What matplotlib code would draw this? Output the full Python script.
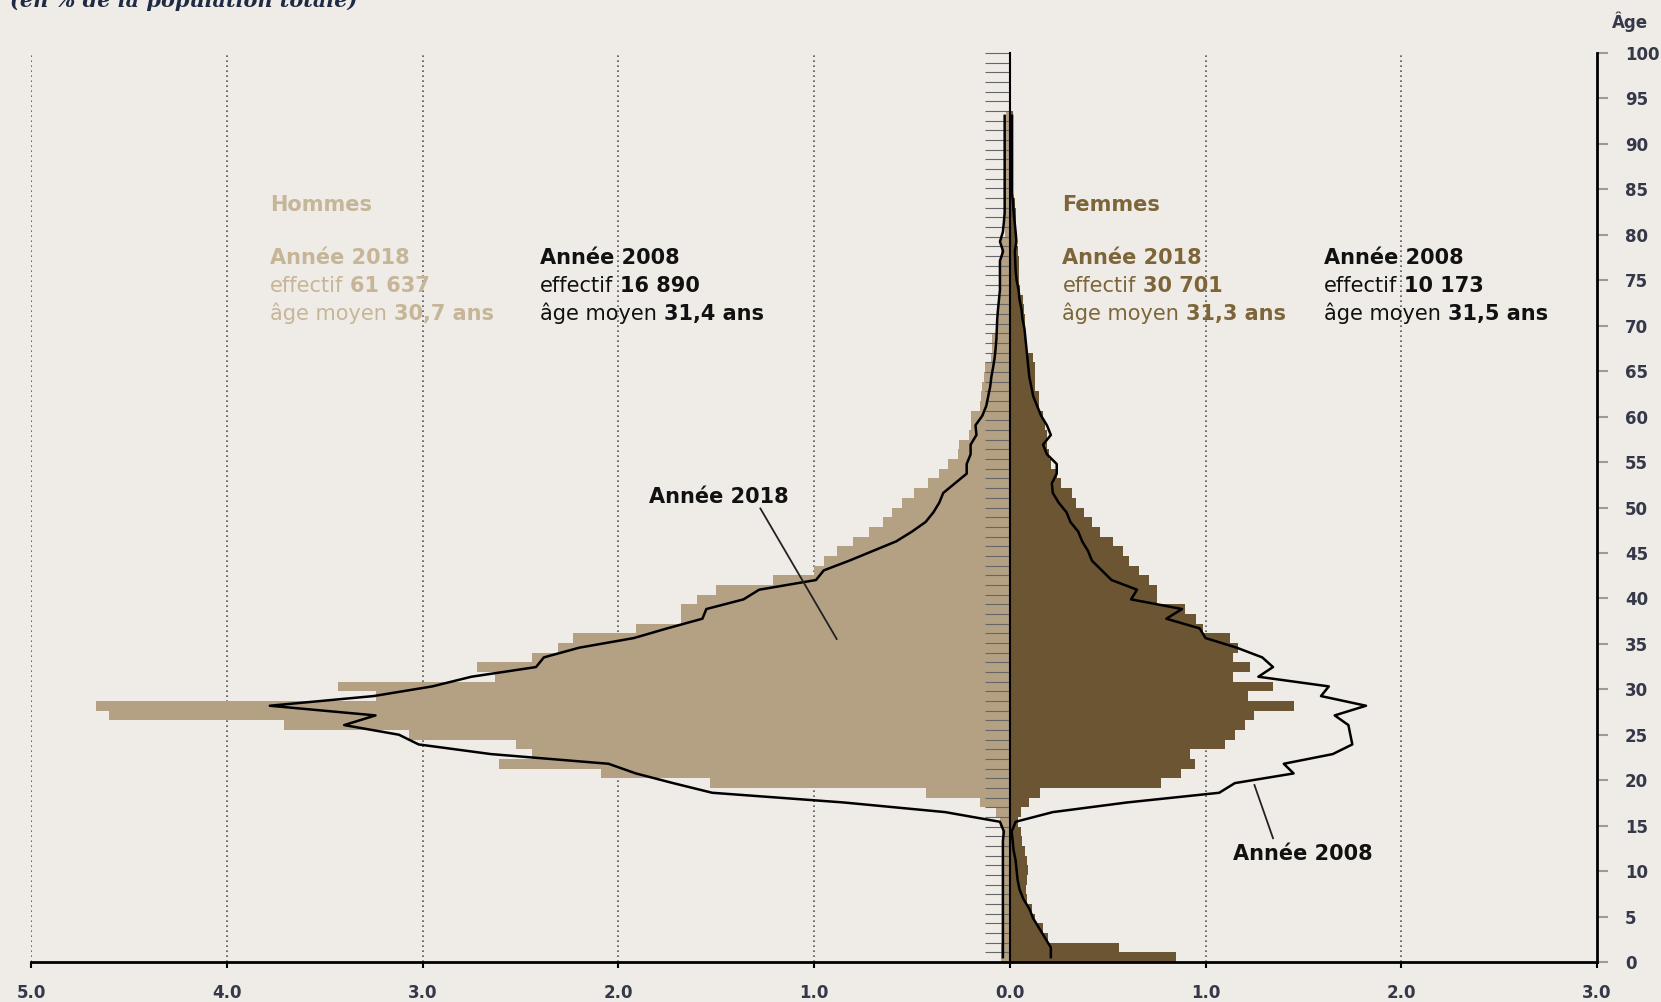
import numpy as np
import matplotlib.pyplot as plt

# age groups (one bar per year of age)
ages = np.arange(88)

# % of total population, 2018 (bars)
male_2018 = [0.045, 0.045, 0.04, 0.04, 0.04,
             0.035, 0.035, 0.035, 0.035, 0.035,
             0.035, 0.035, 0.04, 0.04, 0.05,
             0.07, 0.15, 0.43, 1.53, 2.09,
             2.61, 2.44, 2.52, 3.07, 3.71,
             4.60, 4.67, 3.24, 3.43, 2.63,
             2.72, 2.44, 2.31, 2.23, 1.91,
             1.68, 1.68, 1.60, 1.50, 1.21,
             1.00, 0.95, 0.88, 0.80, 0.72,
             0.65, 0.60, 0.55, 0.49, 0.42,
             0.36, 0.315, 0.265, 0.26, 0.21,
             0.20, 0.20, 0.15, 0.145, 0.14,
             0.13, 0.125, 0.095, 0.09, 0.09,
             0.06, 0.06, 0.06, 0.06, 0.045,
             0.045, 0.045, 0.045, 0.045, 0.045,
             0.025, 0.025, 0.025, 0.025, 0.025,
             0.025, 0.025, 0.025, 0.025, 0.025,
             0.025, 0.02, 0.02]
female_2018 = [0.847, 0.558, 0.196, 0.17, 0.128,
               0.116, 0.089, 0.082, 0.089, 0.094,
               0.089, 0.077, 0.065, 0.06, 0.043,
               0.06, 0.10, 0.153, 0.775, 0.877,
               0.945, 0.919, 1.098, 1.149, 1.20,
               1.246, 1.45, 1.217, 1.345, 1.14,
               1.226, 1.14, 1.166, 1.124, 0.987,
               0.953, 0.894, 0.75, 0.75, 0.71,
               0.66, 0.61, 0.58, 0.53, 0.46,
               0.42, 0.38, 0.34, 0.32, 0.26,
               0.24, 0.21, 0.20, 0.19, 0.19,
               0.18, 0.17, 0.15, 0.15, 0.13,
               0.13, 0.13, 0.12, 0.09, 0.085,
               0.08, 0.08, 0.075, 0.07, 0.05,
               0.045, 0.045, 0.045, 0.04, 0.035,
               0.03, 0.03, 0.03, 0.025, 0.015,
               0.015, 0.015, 0.015, 0.015, 0.015,
               0.015, 0.015, 0.015]

# % of total population, 2008 (black lines)
male_2008 = [0.035, 0.035, 0.035, 0.035, 0.035,
             0.035, 0.035, 0.035, 0.035, 0.035,
             0.035, 0.035, 0.035, 0.03, 0.05,
             0.33, 0.85, 1.52, 1.72, 1.91,
             2.05, 2.65, 3.02, 3.12, 3.40,
             3.24, 3.78, 3.25, 2.95, 2.75,
             2.42, 2.38, 2.20, 1.92, 1.75,
             1.57, 1.55, 1.36, 1.28, 0.99,
             0.95, 0.82, 0.70, 0.58, 0.50,
             0.43, 0.39, 0.36, 0.34, 0.28,
             0.22, 0.22, 0.20, 0.20, 0.17,
             0.175, 0.14, 0.12, 0.11, 0.10,
             0.094, 0.085, 0.077, 0.072, 0.068,
             0.066, 0.064, 0.06, 0.055, 0.05,
             0.05, 0.05, 0.05, 0.034, 0.05,
             0.035, 0.03, 0.026, 0.026, 0.026,
             0.026, 0.026, 0.026, 0.026, 0.026,
             0.026, 0.026, 0.026]
female_2008 = [0.21, 0.21, 0.18, 0.15, 0.12,
               0.10, 0.07, 0.05, 0.04, 0.035,
               0.03, 0.02, 0.015, 0.01, 0.03,
               0.22, 0.60, 1.07, 1.15, 1.45,
               1.40, 1.65, 1.75, 1.74, 1.73,
               1.66, 1.82, 1.59, 1.63, 1.27,
               1.345, 1.29, 1.16, 1.0, 0.97,
               0.80, 0.88, 0.62, 0.65, 0.52,
               0.47, 0.42, 0.40, 0.37, 0.35,
               0.31, 0.29, 0.25, 0.22, 0.215,
               0.24, 0.24, 0.19, 0.17, 0.21,
               0.19, 0.16, 0.14, 0.12, 0.11,
               0.10, 0.095, 0.09, 0.085, 0.08,
               0.075, 0.065, 0.06, 0.05, 0.045,
               0.035, 0.03, 0.028, 0.026, 0.034,
               0.03, 0.025, 0.02, 0.017, 0.012,
               0.012, 0.012, 0.012, 0.012, 0.012,
               0.012, 0.012, 0.012]

x_ticks = [-5, -4, -3, -2, -1, 0, 1, 2, 3]
grid_x = [-5, -4, -3, -2, -1, 1, 2]
age_ticks = list(range(0, 101, 5))

bg = '#efece7'
c_male = '#b4a083'
c_female = '#6b5532'
c_male_txt = '#c6b597'
c_female_txt = '#7d6539'
c_axis_txt = '#343848'

fig = plt.figure(figsize=(16.61, 10.02), dpi=100, facecolor=bg)
ax = fig.add_axes([31 / 1661, 40 / 1002, 1566 / 1661, 909 / 1002])
ax.set_facecolor(bg)

for g in grid_x:
    ax.axvline(g, color='#555555', lw=1.2, ls=(0, (1, 2)), zorder=0.5)

ax.barh(ages, -np.array(male_2018), height=1, align='edge', color=c_male, zorder=1)
ax.barh(ages, female_2018, height=1, align='edge', color=c_female, zorder=1)

ax.plot(-np.array(male_2008), ages + 0.5, color='black', lw=1.8, zorder=3)
ax.plot(female_2008, ages + 0.5, color='black', lw=1.8, zorder=3)

ax.set_xlim(-5, 3)
ax.set_ylim(0, 94)

# centre line with a tick for every year
ax.spines['left'].set_position(('data', 0))
ax.spines['left'].set_linewidth(1.5)
ax.spines['right'].set_visible(False)
ax.spines['top'].set_visible(False)
ax.spines['bottom'].set_linewidth(2)
ax.set_yticks(np.arange(0, 95))
ax.tick_params(axis='y', direction='out', length=18, width=0.8, color='#666666', labelleft=False)

ax.set_xticks(x_ticks)
ax.set_xticklabels([f"{abs(v):.1f}" for v in x_ticks])
ax.tick_params(axis='x', direction='out', length=4, width=1.5, color='black', pad=12,
               labelsize=12, labelcolor=c_axis_txt)
for lbl in ax.get_xticklabels():
    lbl.set_fontweight('bold')

# age axis on the right
ax2 = ax.twinx()
ax2.set_ylim(0, 100)
ax2.set_yticks(age_ticks)
for s in ['left', 'top', 'bottom']:
    ax2.spines[s].set_visible(False)
ax2.spines['right'].set_linewidth(2)
ax2.tick_params(axis='y', direction='out', length=8, width=1.5, color='#9a9a9a', pad=12,
                labelsize=12, labelcolor=c_axis_txt)
for lbl in ax2.get_yticklabels():
    lbl.set_fontweight('bold')

fig.text(1630 / 1661, 1 - 22 / 1002, 'Âge', ha='center', va='center', fontsize=12,
         fontweight='bold', color=c_axis_txt)
fig.text(10 / 1661, 1 - 7 / 1002, '(en % de la population totale)', fontsize=15,
         fontstyle='italic', fontweight='bold', family='DejaVu Serif', color='#1f2a44',
         va='baseline')


def line(x, y, first, second, color, bold_first=False):
    t = ax.text(x, y, first, fontsize=15, color=color, va='baseline', ha='left',
                fontweight='bold' if bold_first else 'normal', zorder=5)
    if second:
        ax.annotate(second, xy=(1, 0), xycoords=t, xytext=(5, 0), textcoords='offset points',
                    fontsize=15, color=color, fontweight='bold', va='bottom', ha='left',
                    zorder=5)


ax.text(-3.78, 77.7, 'Hommes', fontsize=15, fontweight='bold', color=c_male_txt, va='baseline')
line(-3.78, 72.2, 'Année 2018', None, c_male_txt, bold_first=True)
line(-3.78, 69.3, 'effectif', '61 637', c_male_txt)
line(-3.78, 66.4, 'âge moyen', '30,7 ans', c_male_txt)

line(-2.40, 72.2, 'Année 2008', None, '#111111', bold_first=True)
line(-2.40, 69.3, 'effectif', '16 890', '#111111')
line(-2.40, 66.4, 'âge moyen', '31,4 ans', '#111111')

ax.text(0.269, 77.7, 'Femmes', fontsize=15, fontweight='bold', color=c_female_txt, va='baseline')
line(0.269, 72.2, 'Année 2018', None, c_female_txt, bold_first=True)
line(0.269, 69.3, 'effectif', '30 701', c_female_txt)
line(0.269, 66.4, 'âge moyen', '31,3 ans', c_female_txt)

line(1.605, 72.2, 'Année 2008', None, '#111111', bold_first=True)
line(1.605, 69.3, 'effectif', '10 173', '#111111')
line(1.605, 66.4, 'âge moyen', '31,5 ans', '#111111')

# callouts
ax.text(-1.488, 47.5, 'Année 2018', fontsize=15, fontweight='bold', color='#111111',
        ha='center', va='baseline', zorder=5)
ax.plot([-1.274, -0.884], [46.9, 33.4], color='#222222', lw=1.3, zorder=4)
ax.text(1.496, 10.5, 'Année 2008', fontsize=15, fontweight='bold', color='#111111',
        ha='center', va='baseline', zorder=5)
ax.plot([1.25, 1.345], [18.3, 12.8], color='#222222', lw=1.3, zorder=4)

fig.savefig('out.png', dpi=100, facecolor=bg)
